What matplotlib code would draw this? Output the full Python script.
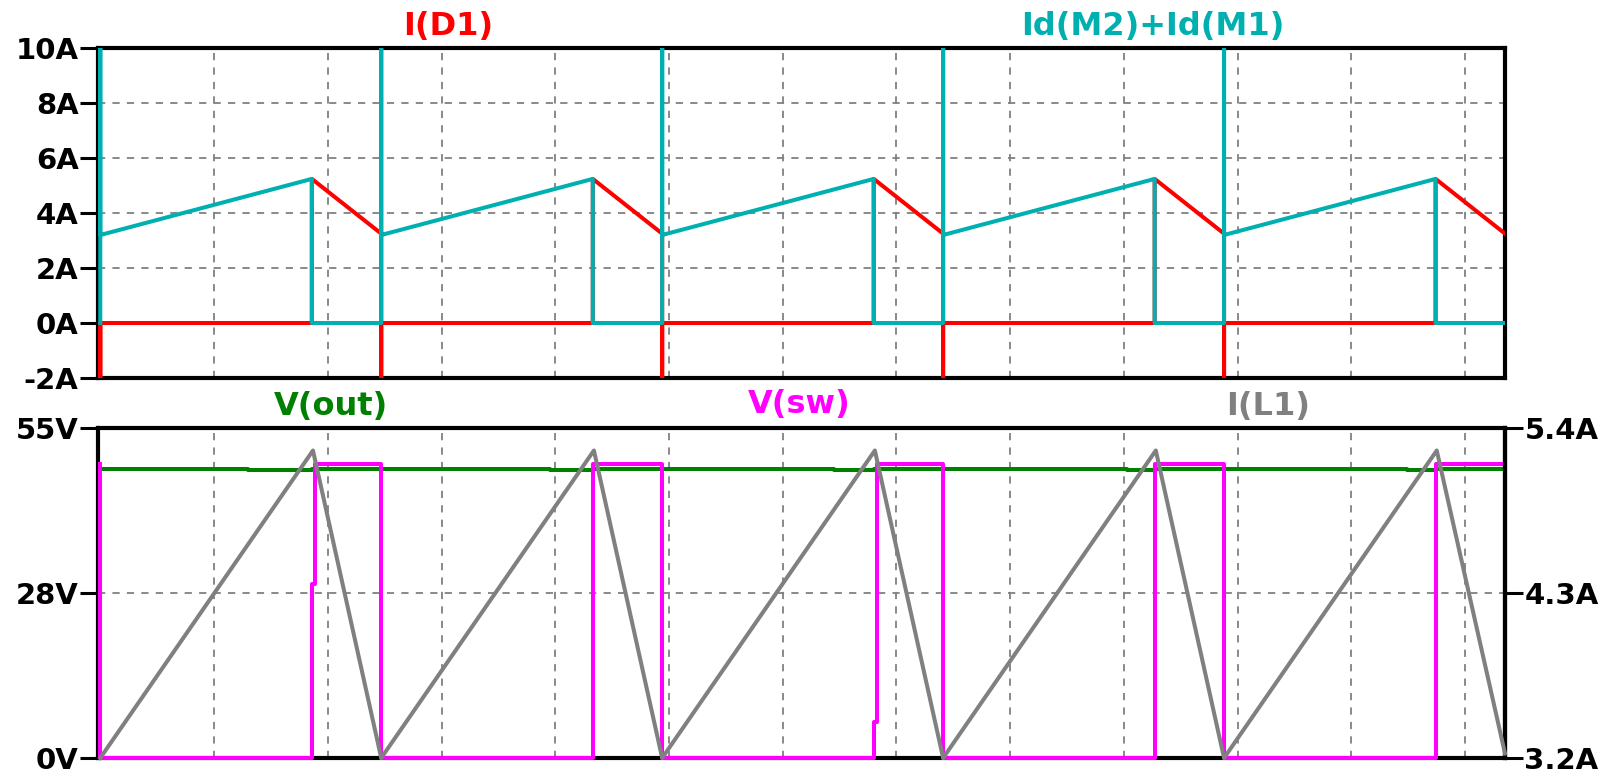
import matplotlib.pyplot as plt
import numpy as np

# switching instants (one grid division = 1 unit)
t_on = [0.00, 2.47, 4.94, 7.41, 9.88]
t_off = [1.86, 4.33, 6.80, 9.27, 11.74]
t_end = 12.35

# top pane: currents in A
i_valley = 3.2       # switch current right after turn-on
i_peak = 5.24        # current at turn-off
i_diode_end = 3.25   # diode current just before the next turn-on
i_spike_up = 12.0    # turn-on spike of the switch (off scale)
i_spike_down = -3.0  # reverse recovery of the diode (off scale)

# bottom pane: voltages in V and inductor current in A
v_out_level = 48.2
v_out_dip = 48.0
v_out_dip_start = [1.30, 3.95, 6.45, 9.03, 11.49]
v_sw_high = 49.0
v_sw_step = [29.0, 49.0, 6.0, 49.0, 49.0]   # short intermediate level at turn-off
v_sw_step_len = 0.03
il_valley = 3.2
il_peak = 5.25
il_end = 3.23

top_ticks = [-2, 0, 2, 4, 6, 8, 10]
top_labels = ['-2A', '0A', '2A', '4A', '6A', '8A', '10A']
left_ticks = [0, 27.5, 55]
left_labels = ['0V', '28V', '55V']
right_ticks = [3.2, 4.3, 5.4]
right_labels = ['3.2A', '4.3A', '5.4A']
x_grid = [1, 2, 3, 4, 5, 6, 7, 8, 9, 10, 11, 12]

RED = '#ff0000'
CYAN = '#00b0b0'
GREEN = '#008000'
MAGENTA = '#ff00ff'
GRAY = '#808080'

# build the piecewise-linear traces from the breakpoints above
nxt = t_on[1:] + [t_end]
sw_t, sw_i = [], []
d_t, d_i = [0.0, 0.0], [0.0, i_spike_down]
vo_t, vo_v = [0.0], [v_out_level]
vs_t, vs_v = [0.0], [v_sw_high]
il_t, il_i = [], []
for k in range(len(t_on)):
    a, b, c = t_on[k], t_off[k], nxt[k]
    sw_t += [a, a, a, b, b, c]
    sw_i += [0, i_spike_up, i_valley, i_peak, 0, 0]
    d_t += [a, b, b, c]
    d_i += [0, 0, i_peak, i_diode_end]
    if k + 1 < len(t_on):
        d_t += [c, c]
        d_i += [i_spike_down, 0]
    vo_t += [v_out_dip_start[k], v_out_dip_start[k], b, b]
    vo_v += [v_out_level, v_out_dip, v_out_dip, v_out_level]
    vs_t += [a, b, b, b + v_sw_step_len, b + v_sw_step_len, c]
    vs_v += [0, 0, v_sw_step[k], v_sw_step[k], v_sw_high, v_sw_high]
    il_t += [a, b + 0.01]
    il_i += [il_valley, il_peak]
vo_t.append(t_end)
vo_v.append(v_out_level)
il_t.append(t_end)
il_i.append(il_end)

W, H = 1611, 779
fig = plt.figure(figsize=(W / 100, H / 100), dpi=100)
L, R = 98 / W, 1505 / W
ax1 = fig.add_axes([L, 1 - 378 / H, R - L, 330 / H])
ax2 = fig.add_axes([L, 1 - 758 / H, R - L, 330 / H])
ax3 = ax2.twinx()

lw = 2.9
tick_font = dict(fontsize=21, fontweight='bold', family='DejaVu Sans')

ax1.plot(d_t, d_i, color=RED, lw=lw, zorder=3)
ax1.plot(sw_t, sw_i, color=CYAN, lw=lw, zorder=4)
ax1.set_ylim(-2, 10)
ax1.set_yticks(top_ticks)
ax1.set_yticklabels(top_labels, **tick_font)

ax2.plot(vo_t, vo_v, color=GREEN, lw=lw, zorder=3)
ax2.plot(vs_t, vs_v, color=MAGENTA, lw=lw, zorder=4, clip_on=False)
ax2.set_ylim(0, 55)
ax2.set_yticks(left_ticks)
ax2.set_yticklabels(left_labels, **tick_font)

ax3.plot(il_t, il_i, color=GRAY, lw=lw, zorder=5, clip_on=False)
ax3.set_ylim(3.2, 5.4)
ax3.set_yticks(right_ticks)
ax3.set_yticklabels(right_labels, **tick_font)

for ax in (ax1, ax2, ax3):
    ax.set_xlim(-0.02, t_end)
    ax.set_xticks([])
    for s in ax.spines.values():
        s.set_linewidth(3)
        s.set_zorder(2)
    ax.tick_params(axis='y', length=13, width=2.2, pad=1)
for side in ('left', 'top', 'bottom'):
    ax3.spines[side].set_visible(False)
ax3.patch.set_visible(False)
ax2.set_zorder(1)
ax3.set_zorder(2)

grid_kw = dict(color='#808080', lw=1.3, ls=(0, (4, 4)), zorder=1)
for ax, ys in ((ax1, top_ticks[1:-1]), (ax2, left_ticks[1:-1])):
    for xg in x_grid:
        ax.axvline(xg, **grid_kw)
    for yg in ys:
        ax.axhline(yg, **grid_kw)

label_font = dict(fontsize=23, fontweight='bold', ha='center', va='center')
fig.text(448 / W, 1 - 26 / H, 'I(D1)', color=RED, **label_font)
fig.text(1153 / W, 1 - 26 / H, 'Id(M2)+Id(M1)', color=CYAN, **label_font)
fig.text(331 / W, 1 - 407 / H, 'V(out)', color=GREEN, **label_font)
fig.text(799 / W, 1 - 405 / H, 'V(sw)', color=MAGENTA, **label_font)
fig.text(1268 / W, 1 - 407 / H, 'I(L1)', color=GRAY, **label_font)

fig.savefig('out.png', dpi=100)
